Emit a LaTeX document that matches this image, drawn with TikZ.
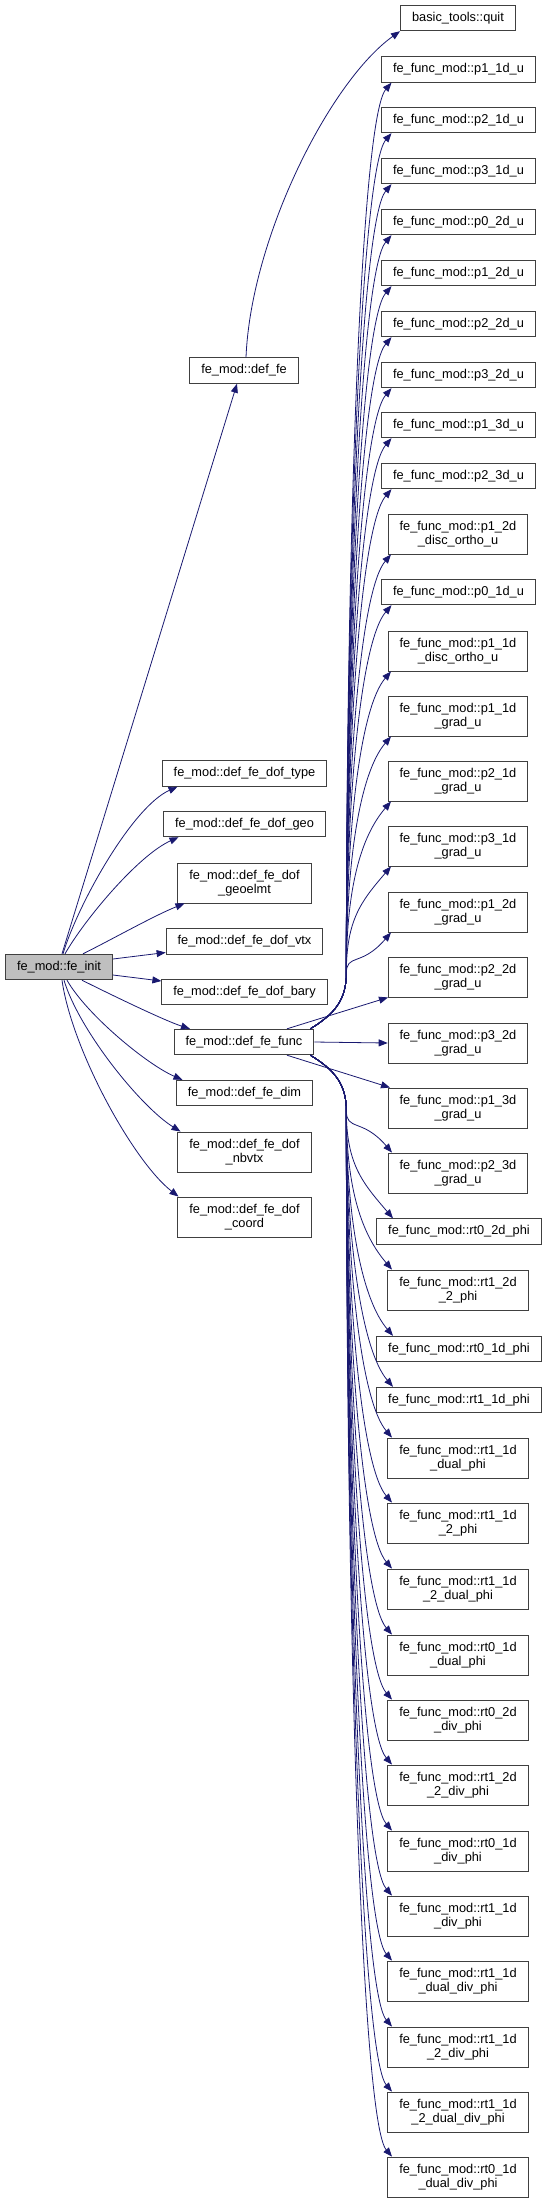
\documentclass[tikz,border=0pt]{standalone}
\usepackage{fontspec}
\setsansfont{Liberation Sans}
\usetikzlibrary{arrows.meta}
\definecolor{edge}{HTML}{191970}
\definecolor{frame}{HTML}{404040}
\definecolor{root}{HTML}{BFBFBF}

\begin{document}
\begin{tikzpicture}[x=1pt, y=-1pt, font=\sffamily\fontsize{12.8}{14.5}\selectfont,
  fn/.style={draw=frame, line width=0.9pt, fill=white, inner xsep=11.5pt, inner ysep=3pt, minimum height=25.5pt, align=center},
  two/.style={fn, minimum height=40pt},
  fnroot/.style={fn, fill=root},
  arr/.style={-{Triangle[length=9pt, width=7pt]}, line width=0.8pt, edge}
]
  \useasboundingbox (0,0) rectangle (547,2203);

  % caller and first level
  \node[fnroot] (init) at (59,967) {fe\_mod::fe\_init};
  \node[fn] (dfe) at (244,370.5) {fe\_mod::def\_fe};
  \node[fn] (dtype) at (244.5,773.5) {fe\_mod::def\_fe\_dof\_type};
  \node[fn] (dgeo) at (244.5,824) {fe\_mod::def\_fe\_dof\_geo};
  \node[two] (dgeoel) at (244.5,883) {fe\_mod::def\_fe\_dof\\\_geoelmt};
  \node[fn] (dvtx) at (244.5,941.5) {fe\_mod::def\_fe\_dof\_vtx};
  \node[fn] (dbary) at (244.5,992) {fe\_mod::def\_fe\_dof\_bary};
  \node[fn] (func) at (244,1042) {fe\_mod::def\_fe\_func};
  \node[fn] (ddim) at (244.5,1093) {fe\_mod::def\_fe\_dim};
  \node[two] (dnbvtx) at (244.5,1152) {fe\_mod::def\_fe\_dof\\\_nbvtx};
  \node[two] (dcoord) at (244.5,1217) {fe\_mod::def\_fe\_dof\\\_coord};

  % second level
  \node[fn] (quit) at (458,18) {basic\_tools::quit};
  \node[fn] (p11u) at (458.5,69.5) {fe\_func\_mod::p1\_1d\_u};
  \node[fn] (p21u) at (458.5,120) {fe\_func\_mod::p2\_1d\_u};
  \node[fn] (p31u) at (458.5,171) {fe\_func\_mod::p3\_1d\_u};
  \node[fn] (p02u) at (458.5,222) {fe\_func\_mod::p0\_2d\_u};
  \node[fn] (p12u) at (458.5,273) {fe\_func\_mod::p1\_2d\_u};
  \node[fn] (p22u) at (458.5,324) {fe\_func\_mod::p2\_2d\_u};
  \node[fn] (p32u) at (458.5,375) {fe\_func\_mod::p3\_2d\_u};
  \node[fn] (p13u) at (458.5,425) {fe\_func\_mod::p1\_3d\_u};
  \node[fn] (p23u) at (458.5,476) {fe\_func\_mod::p2\_3d\_u};
  \node[two] (p12do) at (458,534) {fe\_func\_mod::p1\_2d\\\_disc\_ortho\_u};
  \node[fn] (p01u) at (458.5,592) {fe\_func\_mod::p0\_1d\_u};
  \node[two] (p11do) at (458,651) {fe\_func\_mod::p1\_1d\\\_disc\_ortho\_u};
  \node[two] (p11g) at (458,716) {fe\_func\_mod::p1\_1d\\\_grad\_u};
  \node[two] (p21g) at (458,781) {fe\_func\_mod::p2\_1d\\\_grad\_u};
  \node[two] (p31g) at (458,846) {fe\_func\_mod::p3\_1d\\\_grad\_u};
  \node[two] (p12g) at (458,912) {fe\_func\_mod::p1\_2d\\\_grad\_u};
  \node[two] (p22g) at (458,977) {fe\_func\_mod::p2\_2d\\\_grad\_u};
  \node[two] (p32g) at (458,1043) {fe\_func\_mod::p3\_2d\\\_grad\_u};
  \node[two] (p13g) at (458,1108) {fe\_func\_mod::p1\_3d\\\_grad\_u};
  \node[two] (p23g) at (458,1173) {fe\_func\_mod::p2\_3d\\\_grad\_u};
  \node[fn] (rt02) at (459,1231.5) {fe\_func\_mod::rt0\_2d\_phi};
  \node[two] (rt122) at (458,1290) {fe\_func\_mod::rt1\_2d\\\_2\_phi};
  \node[fn] (rt01) at (459,1349) {fe\_func\_mod::rt0\_1d\_phi};
  \node[fn] (rt11) at (459,1400) {fe\_func\_mod::rt1\_1d\_phi};
  \node[two] (rt11d) at (458,1458) {fe\_func\_mod::rt1\_1d\\\_dual\_phi};
  \node[two] (rt112) at (458,1523) {fe\_func\_mod::rt1\_1d\\\_2\_phi};
  \node[two] (rt112d) at (458,1589) {fe\_func\_mod::rt1\_1d\\\_2\_dual\_phi};
  \node[two] (rt01d) at (458,1655) {fe\_func\_mod::rt0\_1d\\\_dual\_phi};
  \node[two] (rt02v) at (458,1720) {fe\_func\_mod::rt0\_2d\\\_div\_phi};
  \node[two] (rt122v) at (458,1785) {fe\_func\_mod::rt1\_2d\\\_2\_div\_phi};
  \node[two] (rt01v) at (458,1851) {fe\_func\_mod::rt0\_1d\\\_div\_phi};
  \node[two] (rt11v) at (458,1916) {fe\_func\_mod::rt1\_1d\\\_div\_phi};
  \node[two] (rt11dv) at (458,1981) {fe\_func\_mod::rt1\_1d\\\_dual\_div\_phi};
  \node[two] (rt112v) at (458,2047) {fe\_func\_mod::rt1\_1d\\\_2\_div\_phi};
  \node[two] (rt112dv) at (458,2112) {fe\_func\_mod::rt1\_1d\\\_2\_dual\_div\_phi};
  \node[two] (rt01dv) at (458,2177) {fe\_func\_mod::rt0\_1d\\\_dual\_div\_phi};

  % fe_init calls
  \draw[arr] ([xshift=3pt]init.north) -- ([xshift=-7pt]dfe.south);
  \draw[arr] ([xshift=4pt]init.north) .. controls +(15,-50) and +(-45,20) .. ([xshift=-67pt]dtype.south);
  \draw[arr] ([xshift=6pt]init.north) .. controls +(20,-35) and +(-40,18) .. ([xshift=-66pt]dgeo.south);
  \draw[arr] ([xshift=24pt]init.north) .. controls +(30,-15) and +(-30,12) .. ([xshift=-60pt]dgeoel.south);
  \draw[arr] ([yshift=8pt]init.east) -- ([yshift=-11pt]dvtx.west);
  \draw[arr] ([yshift=-8pt]init.east) -- ([yshift=11pt]dbary.west);
  \draw[arr] ([xshift=23pt]init.south) .. controls +(30,15) and +(-25,-8) .. ([xshift=-54pt]func.north);
  \draw[arr] ([xshift=8pt]init.south) .. controls +(20,35) and +(-35,-15) .. ([xshift=-62pt]ddim.north);
  \draw[arr] ([xshift=5pt]init.south) .. controls +(15,50) and +(-40,-25) .. ([xshift=-64pt]dnbvtx.north);
  \draw[arr] ([xshift=3pt]init.south) .. controls +(10,70) and +(-45,-35) .. ([xshift=-66pt]dcoord.north);

  \draw[arr] ([xshift=2pt]dfe.north) .. controls +(5,-120) and +(-70,50) .. ([xshift=-58pt]quit.south);

  % def_fe_func calls
  \foreach \t/\d in {p11u/947, p21u/896, p31u/845, p02u/794, p12u/743, p22u/692,
                     p32u/641, p13u/591, p23u/540, p12do/475, p01u/424, p11do/358,
                     p11g/293, p21g/228, p31g/163, p12g/97}
    \draw[arr] ([xshift=-4pt]func.north east) .. controls +(25,-15) and +(0,25) .. ++(36,-55)
      .. controls +(0,{-0.5*(\d-55)}) and +(-30,35) .. ([xshift=-67pt]\t.south);
  \draw[arr] ([xshift=43pt]func.north) -- ([xshift=-70pt]p22g.south);
  \draw[arr] (func.east) -- (p32g.west);
  \draw[arr] ([xshift=43pt]func.south) -- ([xshift=-68pt]p13g.north);
  \foreach \t/\d in {p23g/98, rt02/164, rt122/215, rt01/281, rt11/332, rt11d/383,
                     rt112/448, rt112d/514, rt01d/580, rt02v/645, rt122v/710, rt01v/776,
                     rt11v/841, rt11dv/906, rt112v/972, rt112dv/1037, rt01dv/1102}
    \draw[arr] ([xshift=-4pt]func.south east) .. controls +(25,15) and +(0,-25) .. ++(36,55)
      .. controls +(0,{0.5*(\d-55)}) and +(-30,-35) .. ([xshift=-66pt]\t.north);
\end{tikzpicture}
\end{document}
